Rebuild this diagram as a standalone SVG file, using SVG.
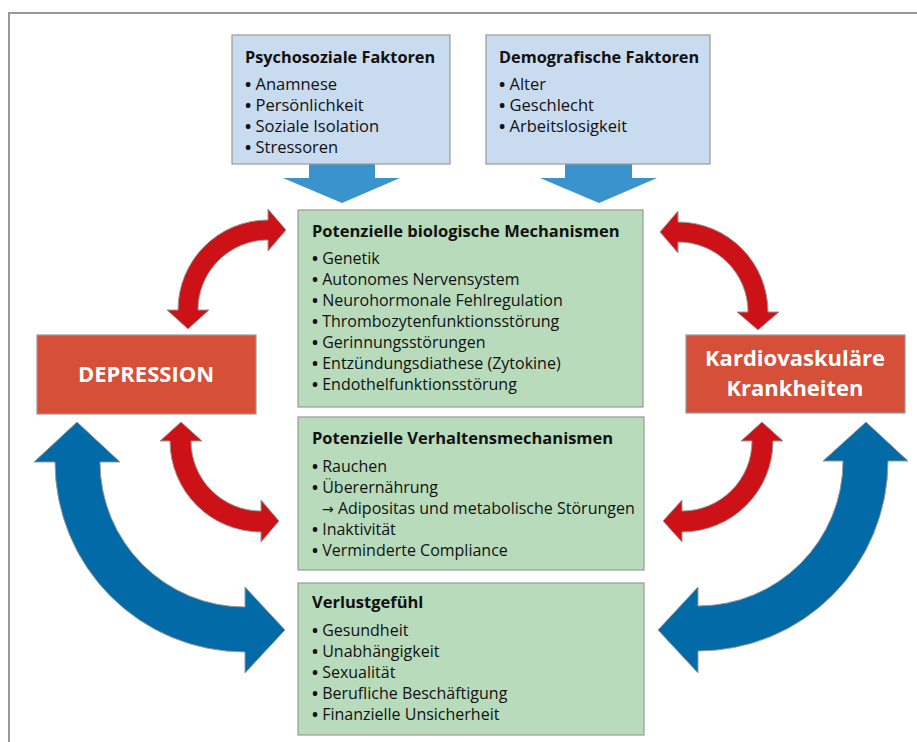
<svg xmlns="http://www.w3.org/2000/svg" width="917" height="742" viewBox="0 0 917 742">
<style>
.frame{stroke:#999;stroke-width:2;fill:none}
.bx{fill:#C9DBEF;stroke:#999;stroke-width:1.2}
.gb{fill:#B8DBBC;stroke:#999;stroke-width:1.2}
.rb{fill:#D64F38;stroke:#999;stroke-width:1.2}
.ra{fill:#CC1216;stroke:#999;stroke-width:1}
.ba{fill:#036AA8;stroke:#999;stroke-width:1}
.la{fill:#3A93CC}
text{font-family:"Open Sans","Noto Sans",sans-serif;fill:#111}
.t{font-size:16.5px;font-weight:bold}
.i{font-size:16px}
.tt{font-size:16.3px;font-weight:bold}
.ti{font-size:16.5px}
.b{font-weight:bold}
.ar{font-family:"DejaVu Sans",sans-serif;font-size:14px}
.w{fill:#fff;font-weight:bold;font-size:22px;text-anchor:middle}
</style>
<rect width="917" height="742" fill="#fff"/>
<path class="frame" d="M9,742 V13 H917"/>
<g id="connectors">
<path class="la" d="M309,164 L375,164 L375,178 L400,178 L342,203 L283,178 L309,178 Z"/>
<path class="la" d="M565,164 L632,164 L632,178 L657,178 L599,203 L540,178 L565,178 Z"/>
<path class="ra" d="M268,220 L268,209 L286,230 L268,251 L268,240 A70 70 0 0 0 198,310 L209,310 L188,329 L167,310 L178,310 A90 90 0 0 1 268,220 Z"/>
<path class="ra" d="M678,222 L678,211 L660,232 L678,253 L678,242 A70 70 0 0 1 748,312 L737,312 L758,330 L779,312 L768,312 A90 90 0 0 0 678,222 Z"/>
<path class="ra" d="M170,441 L160,441 L181,422 L202,441 L191,441 A70 70 0 0 0 261,511 L261,500 L279,521 L261,542 L261,532 A91 91 0 0 1 170,441 Z"/>
<path class="ra" d="M752,441 L741,441 L762,422 L783,441 L773,441 A91 91 0 0 1 682,532 L682,542 L663,521 L682,500 L682,511 A70 70 0 0 0 752,441 Z"/>
<path class="ba" d="M55,462 L34,462 L77,422 L120,462 L100,462 A145 145 0 0 0 245,607 L245,587 L285,630 L245,673 L245,652 A190 190 0 0 1 55,462 Z"/>
<path class="ba" d="M843,461 L823,461 L866,422 L908,461 L888,461 A190 190 0 0 1 698,651 L698,673 L658,630 L698,587 L698,606 A145 145 0 0 0 843,461 Z"/>
</g>
<g id="psychosoziale">
<rect class="bx" x="232" y="35" width="218" height="129"/>
<text class="tt" x="245" y="63">Psychosoziale Faktoren</text>
<text class="ti" x="245" y="90"><tspan class="b">•</tspan> Anamnese</text>
<text class="ti" x="245" y="111"><tspan class="b">•</tspan> Persönlichkeit</text>
<text class="ti" x="245" y="132"><tspan class="b">•</tspan> Soziale Isolation</text>
<text class="ti" x="245" y="153"><tspan class="b">•</tspan> Stressoren</text>
</g>
<g id="demografische">
<rect class="bx" x="486" y="35" width="224" height="129"/>
<text class="tt" x="499" y="63">Demografische Faktoren</text>
<text class="ti" x="499" y="90"><tspan class="b">•</tspan> Alter</text>
<text class="ti" x="499" y="111"><tspan class="b">•</tspan> Geschlecht</text>
<text class="ti" x="499" y="132"><tspan class="b">•</tspan> Arbeitslosigkeit</text>
</g>
<g id="biologisch">
<rect class="gb" x="298" y="210" width="345" height="197"/>
<text class="t" x="312" y="237">Potenzielle biologische Mechanismen</text>
<text class="i" x="312" y="264"><tspan class="b">•</tspan> Genetik</text>
<text class="i" x="312" y="285"><tspan class="b">•</tspan> Autonomes Nervensystem</text>
<text class="i" x="312" y="306"><tspan class="b">•</tspan> Neurohormonale Fehlregulation</text>
<text class="i" x="312" y="327"><tspan class="b">•</tspan> Thrombozytenfunktionsstörung</text>
<text class="i" x="312" y="348"><tspan class="b">•</tspan> Gerinnungsstörungen</text>
<text class="i" x="312" y="369"><tspan class="b">•</tspan> Entzündungsdiathese (Zytokine)</text>
<text class="i" x="312" y="390"><tspan class="b">•</tspan> Endothelfunktionsstörung</text>
</g>
<g id="verhalten">
<rect class="gb" x="298" y="417" width="346" height="153"/>
<text class="t" x="312" y="444">Potenzielle Verhaltensmechanismen</text>
<text class="i" x="312" y="472"><tspan class="b">•</tspan> Rauchen</text>
<text class="i" x="312" y="493"><tspan class="b">•</tspan> Überernährung</text>
<text class="i" x="322" y="514"><tspan class="ar">→</tspan> Adipositas und metabolische Störungen</text>
<text class="i" x="312" y="535"><tspan class="b">•</tspan> Inaktivität</text>
<text class="i" x="312" y="556"><tspan class="b">•</tspan> Verminderte Compliance</text>
</g>
<g id="verlust">
<rect class="gb" x="298" y="583" width="346" height="152"/>
<text class="t" x="312" y="608">Verlustgefühl</text>
<text class="i" x="312" y="636"><tspan class="b">•</tspan> Gesundheit</text>
<text class="i" x="312" y="657"><tspan class="b">•</tspan> Unabhängigkeit</text>
<text class="i" x="312" y="678"><tspan class="b">•</tspan> Sexualität</text>
<text class="i" x="312" y="699"><tspan class="b">•</tspan> Berufliche Beschäftigung</text>
<text class="i" x="312" y="720"><tspan class="b">•</tspan> Finanzielle Unsicherheit</text>
</g>
<g id="depression">
<rect class="rb" x="37" y="335" width="219" height="79"/>
<text class="w" x="146" y="382" font-size="23">DEPRESSION</text>
</g>
<g id="kardio">
<rect class="rb" x="686" y="335" width="219" height="78"/>
<text class="w" x="795" y="366">Kardiovaskuläre</text>
<text class="w" x="795" y="396">Krankheiten</text>
</g>
</svg>
